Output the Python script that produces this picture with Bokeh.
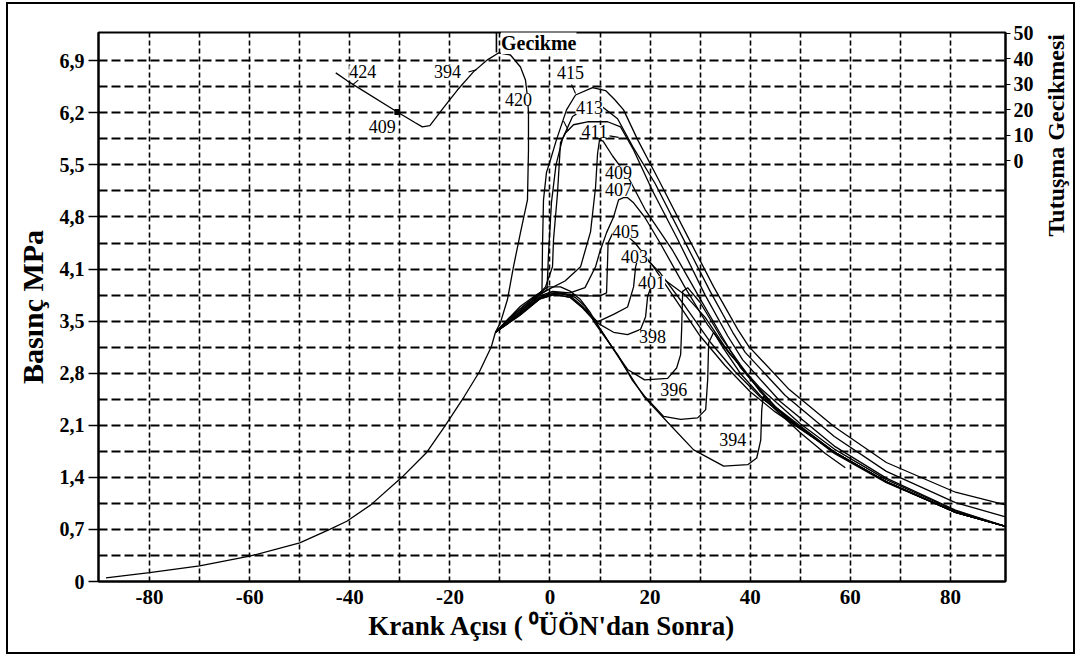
import math
from bokeh.plotting import figure
from bokeh.layouts import row
from bokeh.core.properties import value
from bokeh.models import (FixedTicker, LinearAxis, Range1d, Label, LabelSet,
                          ColumnDataSource)
from bokeh.embed import file_html
from bokeh.resources import INLINE

FONT = "Liberation Serif"

# ---------------- data ----------------
x_ticks = [-80, -60, -40, -20, 0, 20, 40, 60, 80]
y_ticks = [0, 0.7, 1.4, 2.1, 2.8, 3.5, 4.2, 4.9, 5.6, 6.3, 7.0]
y_tick_labels = ["0", "0,7", "1,4", "2,1", "2,8", "3,5", "4,1", "4,8", "5,5", "6,2", "6,9"]
g_ticks = [0, 10, 20, 30, 40, 50]

# compression (common part)
comp_x = [-88.7, -80, -70, -60, -50, -44, -40.6, -35.8, -29.6, -24.7, -21.1, -17.1, -14.1, -11.7, -10.9]
comp_y = [0.05, 0.12, 0.21, 0.34, 0.52, 0.70, 0.81, 1.03, 1.40, 1.73, 2.08, 2.49, 2.82, 3.16, 3.35]

# ignition delay curve (right axis)
gec_x = [-42.8, -40.5, -30.5, -27.0, -25.5, -24.0, -21.3, -18.5, -15.3, -12.5, -10.3, -7.9, -5.9, -4.9, -4.5]
gec_y = [34.4, 31.3, 19.1, 15.0, 13.3, 13.8, 20.7, 27.7, 34.8, 39.5, 42.2, 41.4, 36.7, 31.6, 25.0]

p420_x = [-10.9, -9.9, -8.5, -7.3, -5.9, -4.5, -4.3, -4.3, -4.5]
p420_y = [3.35, 3.48, 3.79, 4.23, 4.69, 5.13, 5.80, 6.30, 6.52]

p415_x = [-10.9, -8.5, -5.9, -3.0, -1.6, -1.5, -1.3, -0.7, 0.1, 1.3, 3.3, 5.1, 8.5, 11.1, 12.9, 14.7, 17.5, 21.7, 27.1, 32.7, 37.5, 39.7, 47.8, 56.8, 67.2, 81.0, 91.0]
p415_y = [3.35, 3.52, 3.70, 3.84, 3.90, 4.50, 5.13, 5.50, 5.67, 5.94, 6.34, 6.54, 6.64, 6.60, 6.48, 6.34, 5.94, 5.40, 4.69, 3.96, 3.39, 3.16, 2.58, 2.08, 1.60, 1.20, 1.03]

p413_x = [-10.9, -8.0, -5.0, -2.0, -0.6, -0.3, 0.3, 1.2, 2.5, 4.5, 7.5, 10.5, 13.5, 16.5, 21.0, 26.3, 32.0, 36.5, 39.0, 47.0, 56.8, 67.2, 81.0, 91.0]
p413_y = [3.35, 3.50, 3.68, 3.86, 3.92, 4.40, 5.10, 5.60, 5.95, 6.25, 6.38, 6.38, 6.22, 5.85, 5.35, 4.65, 3.90, 3.35, 3.08, 2.50, 1.95, 1.48, 1.06, 0.87]

p411_x = [-10.9, -6.0, -2.0, -0.9, 0.5, 0.7, 1.5, 2.1, 3.1, 4.7, 7.5, 11.5, 14.1, 16.7, 20.5, 25.5, 31.0, 35.5, 38.5, 46.0, 56.8, 67.2, 81.0, 91.0]
p411_y = [3.35, 3.66, 3.88, 3.96, 4.23, 4.59, 5.22, 5.90, 6.03, 6.14, 6.18, 6.18, 6.11, 5.80, 5.25, 4.60, 3.85, 3.30, 2.98, 2.42, 1.82, 1.39, 0.96, 0.74]

p409_x = [-10.9, -6.0, -2.0, 0.1, 3.0, 6.1, 8.1, 9.1, 9.5, 9.9, 10.6, 12.5, 15.5, 19.0, 24.5, 30.0, 34.3, 38.0, 45.0, 56.8, 67.2, 81.0, 91.0]
p409_y = [3.35, 3.64, 3.86, 3.94, 4.04, 4.23, 4.70, 5.30, 5.75, 5.94, 5.92, 5.72, 5.45, 5.00, 4.45, 3.80, 3.30, 2.88, 2.35, 1.74, 1.34, 0.93, 0.74]

p407_x = [-10.9, -6.0, -2.0, 0.5, 4.0, 7.0, 9.1, 9.9, 11.3, 12.7, 13.7, 14.7, 15.5, 16.7, 18.9, 22.0, 27.0, 31.5, 36.0, 42.0, 50.0, 56.8, 67.2, 81.0, 91.0]
p407_y = [3.35, 3.62, 3.84, 3.90, 3.88, 3.95, 4.23, 4.42, 4.69, 4.90, 5.13, 5.16, 5.16, 5.09, 4.90, 4.55, 3.95, 3.45, 3.05, 2.60, 2.12, 1.78, 1.37, 0.95, 0.74]

p405_x = [-10.9, -6.0, -2.0, 1.0, 4.0, 7.0, 10.0, 11.3, 11.5, 11.6, 12.5, 14.5, 17.0, 20.5, 25.0, 30.0, 35.0, 40.0, 45.0, 50.0, 56.8, 67.2, 81.0, 91.0]
p405_y = [3.35, 3.60, 3.82, 3.88, 3.86, 3.84, 3.84, 3.88, 4.30, 4.55, 4.68, 4.70, 4.55, 4.25, 3.80, 3.30, 2.90, 2.55, 2.28, 2.05, 1.74, 1.34, 0.93, 0.74]

p403_x = [-10.9, -6.0, -2.0, 1.0, 4.0, 6.5, 9.5, 12.7, 15.5, 16.7, 17.1, 17.5, 18.7, 22.0, 27.0, 32.0, 37.0, 42.0, 50.0, 56.8, 67.2, 81.0, 91.0]
p403_y = [3.35, 3.60, 3.82, 3.88, 3.84, 3.70, 3.49, 3.59, 3.69, 3.96, 4.23, 4.33, 4.37, 4.15, 3.70, 3.22, 2.82, 2.48, 2.07, 1.74, 1.34, 0.93, 0.74]

p401_x = [-10.9, -6.0, -2.0, 1.0, 4.0, 6.5, 9.1, 12.7, 15.5, 18.1, 19.1, 19.5, 20.5, 23.0, 27.0, 31.0, 35.0, 40.0, 45.0, 50.0, 56.8, 67.2, 81.0, 91.0]
p401_y = [3.35, 3.58, 3.80, 3.86, 3.82, 3.68, 3.49, 3.35, 3.32, 3.39, 3.56, 3.83, 4.02, 4.05, 3.85, 3.55, 3.15, 2.72, 2.35, 2.07, 1.74, 1.34, 0.93, 0.74]

p398_x = [-10.9, -6.0, -2.0, 1.0, 4.0, 6.5, 9.1, 12.7, 15.5, 18.9, 23.5, 25.3, 26.1, 26.3, 26.5, 27.5, 30.0, 34.0, 38.0, 42.0, 48.0, 56.8, 67.2, 81.0, 91.0]
p398_y = [3.35, 3.58, 3.80, 3.86, 3.82, 3.68, 3.49, 3.12, 2.85, 2.71, 2.73, 2.87, 3.05, 3.39, 3.90, 3.95, 3.75, 3.30, 2.92, 2.55, 2.15, 1.74, 1.34, 0.93, 0.74]

p396_x = [-10.9, -8.0, -5.0, -2.0, 0.0, 2.5, 5.0, 7.0, 9.1, 13.5, 16.5, 18.9, 22.7, 26.1, 29.5, 31.1, 31.5, 31.7, 32.7, 34.5, 38.0, 42.0, 46.0, 50.0, 56.8, 67.2, 81.0, 91.0]
p396_y = [3.35, 3.50, 3.66, 3.80, 3.88, 3.88, 3.82, 3.70, 3.46, 3.05, 2.70, 2.49, 2.22, 2.18, 2.20, 2.31, 2.71, 3.21, 3.35, 3.15, 2.80, 2.50, 2.25, 2.07, 1.72, 1.33, 0.93, 0.74]

p394_x = [-10.9, -8.0, -5.0, -2.0, -0.5, 2.1, 4.1, 6.1, 8.1, 9.1, 12.7, 18.7, 23.5, 28.7, 34.7, 39.5, 41.3, 42.1, 42.3, 42.6, 46.0, 50.0, 55.0, 59.0]
p394_y = [3.35, 3.55, 3.72, 3.88, 3.96, 3.96, 3.90, 3.79, 3.61, 3.49, 3.12, 2.49, 2.14, 1.77, 1.55, 1.57, 1.66, 1.90, 2.30, 2.49, 2.25, 2.00, 1.72, 1.53]

# curve number labels
lab_text = ["424", "394", "409", "420", "415", "413", "411", "409", "407", "405", "403", "401", "398", "396", "394"]
lab_x = [-37.4, -20.5, -33.5, -6.3, 4.1, 7.9, 8.9, 13.7, 13.7, 15.1, 16.9, 20.3, 20.5, 24.7, 36.5]
lab_y = [6.85, 6.85, 6.11, 6.48, 6.84, 6.37, 6.05, 5.50, 5.27, 4.70, 4.37, 4.02, 3.29, 2.58, 1.91]

# short pointer strokes from some labels to their curves
ptr_x0 = [-39.4, -16.3, 4.3, 2.7, 11.9]
ptr_y0 = [6.68, 6.85, 6.68, 6.19, 5.99]
ptr_x1 = [-38.3, -14.7, 5.1, 3.7, 13.7]
ptr_y1 = [6.74, 6.88, 6.56, 6.06, 5.97]

# ---------------- main figure ----------------
p = figure(width=1029, height=648, x_range=Range1d(-90.2, 91.0), y_range=Range1d(0, 7.38),
           output_backend="svg", toolbar_location=None,
           min_border_left=90, min_border_right=32, min_border_top=28, min_border_bottom=71)
p.extra_y_ranges = {"g": Range1d(-164.5, 50.2)}
p.background_fill_color = "white"
p.border_fill_color = "white"
p.outline_line_color = "black"
p.outline_line_width = 2

# grid
p.xgrid.ticker = FixedTicker(ticks=list(range(-80, 81, 10)))
p.ygrid.ticker = FixedTicker(ticks=[round(0.35 * i, 2) for i in range(1, 21)])
p.xgrid.grid_line_color = "black"
p.ygrid.grid_line_color = "black"
p.xgrid.grid_line_width = 1.6
p.ygrid.grid_line_width = 1.8
p.xgrid.grid_line_dash = "5 3"
p.ygrid.grid_line_dash = "9 4"

# x axis
xa = p.xaxis[0]
xa.ticker = FixedTicker(ticks=x_ticks)
xa.major_label_overrides = {t: str(t) for t in x_ticks}
xa.major_tick_out = 0
xa.major_tick_in = 0
xa.minor_tick_out = 0
xa.minor_tick_in = 0
xa.axis_line_width = 2
xa.major_label_standoff = 8
xa.major_label_text_font = FONT
xa.major_label_text_font_style = "bold"
xa.major_label_text_font_size = "21px"
xa.major_label_text_color = "black"
xa.axis_label = "Krank Açısı ( \u2070ÜÖN'dan Sonra)"
xa.axis_label_text_font = FONT
xa.axis_label_text_font_style = "bold"
xa.axis_label_text_font_size = "27px"
xa.axis_label_text_color = "black"
xa.axis_label_standoff = 4

# left axis
ya = p.yaxis[0]
ya.ticker = FixedTicker(ticks=y_ticks)
ya.major_label_overrides = dict(zip(y_ticks, y_tick_labels))
ya.major_tick_out = 10
ya.major_tick_in = 0
ya.minor_tick_out = 0
ya.minor_tick_in = 0
ya.axis_line_width = 2
ya.major_tick_line_width = 1.5
ya.major_label_standoff = 4
ya.major_label_text_font = FONT
ya.major_label_text_font_style = "bold"
ya.major_label_text_font_size = "20px"
ya.major_label_text_color = "black"
ya.axis_label = "Basınç MPa"
ya.axis_label_text_font = FONT
ya.axis_label_text_font_style = "bold"
ya.axis_label_text_font_size = "30px"
ya.axis_label_text_color = "black"
ya.axis_label_standoff = 8

# right axis (ignition delay)
ra = LinearAxis(y_range_name="g", ticker=FixedTicker(ticks=g_ticks))
ra.major_tick_out = 5
ra.major_tick_in = 0
ra.minor_tick_out = 0
ra.minor_tick_in = 0
ra.axis_line_width = 2
ra.major_label_standoff = 3
ra.major_label_text_font = FONT
ra.major_label_text_font_style = "bold"
ra.major_label_text_font_size = "20px"
ra.major_label_text_color = "black"
p.add_layout(ra, "right")

# ---------------- curves ----------------
LW = 1.3
p.line(comp_x, comp_y, line_color="black", line_width=LW)
for xs, ys in [(p420_x, p420_y), (p415_x, p415_y), (p413_x, p413_y), (p411_x, p411_y),
               (p409_x, p409_y), (p407_x, p407_y), (p405_x, p405_y), (p403_x, p403_y),
               (p401_x, p401_y), (p398_x, p398_y), (p396_x, p396_y), (p394_x, p394_y)]:
    p.line(xs, ys, line_color="black", line_width=LW)

p.line(gec_x, gec_y, y_range_name="g", line_color="black", line_width=LW)
p.scatter([gec_x[2]], [gec_y[2]], y_range_name="g", marker="square", size=5,
          fill_color="black", line_color="black")

p.segment(x0=ptr_x0, y0=ptr_y0, x1=ptr_x1, y1=ptr_y1, line_color="black", line_width=1.1)

# "Gecikme" marker line
p.segment(x0=[-10.7], y0=[7.38], x1=[-10.7], y1=[7.11], line_color="black", line_width=1.6)

# labels
src = ColumnDataSource(dict(x=lab_x, y=lab_y, t=lab_text))
p.add_layout(LabelSet(x="x", y="y", text="t", source=src, text_align="center",
                      text_baseline="middle", text_font=FONT, text_font_size="18px",
                      text_color="black", background_fill_color="white"))

p.add_layout(Label(x=-9.8, y=7.24, text="Gecikme", text_align="left", text_baseline="middle",
                   text_font=FONT, text_font_style="bold", text_font_size="20px",
                   text_color="black", background_fill_color="white"))

# ---------------- side strip carrying the right-hand axis title ----------------
side = figure(width=36, height=648, x_range=Range1d(0, 1), y_range=Range1d(-0.947, 7.759),
              output_backend="svg", toolbar_location=None,
              min_border_left=0, min_border_right=0, min_border_top=0, min_border_bottom=0)
side.axis.visible = False
side.grid.visible = False
side.outline_line_color = None
side.background_fill_color = "white"
side.border_fill_color = "white"
side.text(x=[0.5], y=[6.13], text=["Tutuşma Gecikmesi"], angle=math.pi / 2,
          text_align="center", text_baseline="middle", text_font=value(FONT),
          text_font_style="bold", text_font_size="24px", text_color="black")

layout = row(p, side, margin=(2, 0, 0, 6), styles={"border": "2.5px solid black"})

open("out.html", "w").write(file_html(layout, INLINE))
